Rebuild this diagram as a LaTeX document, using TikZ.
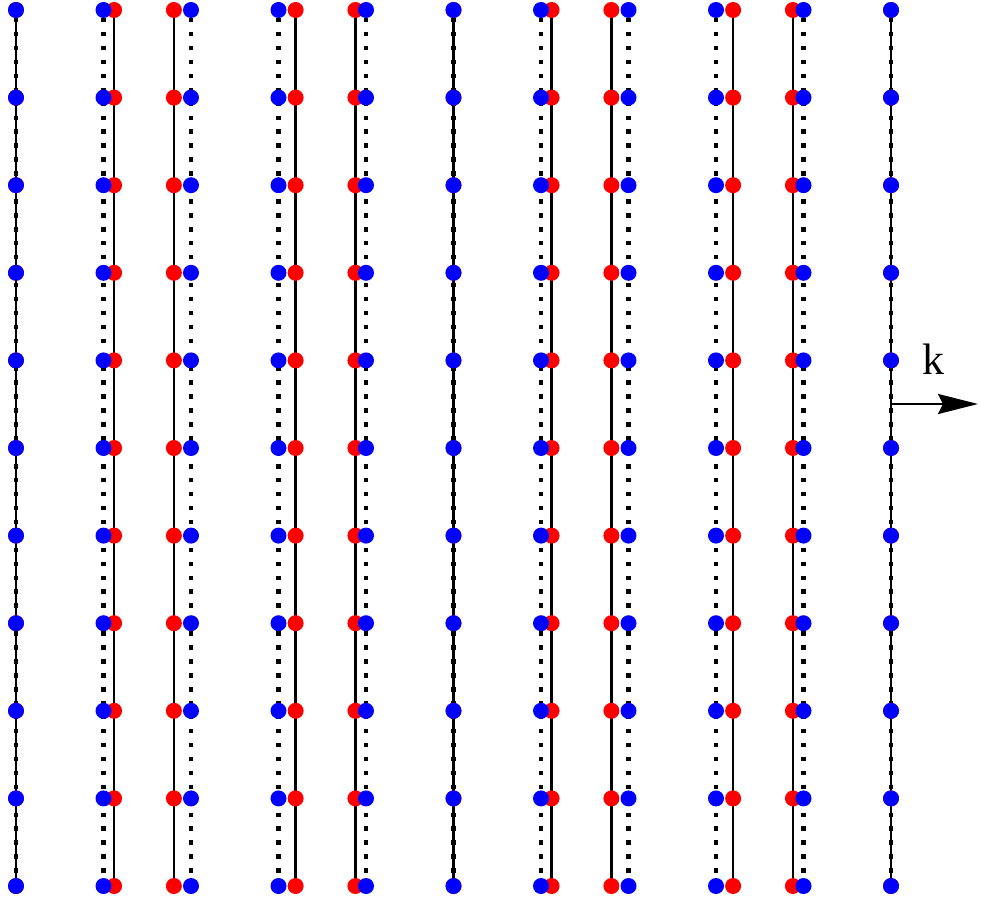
\documentclass[tikz,border=0pt]{standalone}
\usepackage{fontspec}
\setmainfont{Liberation Serif}
\usepackage{tikz}
\usetikzlibrary{arrows.meta,backgrounds}
\definecolor{cRest}{RGB}{0,0,255}
\definecolor{cMove}{RGB}{255,0,0}
\tikzset{
  restdot/.style ={circle,fill=cRest,inner sep=0pt,minimum size=16pt},
  movedot/.style ={circle,fill=cMove,inner sep=0pt,minimum size=16pt},
  wire/.style    ={draw=black,line width=2.5pt},
  dotwire/.style ={draw=black,line width=4.5pt,dash pattern=on 4.5pt off 9.44pt,dash phase=6pt},
  wave/.style    ={-{Stealth[length=40pt,width=20pt,inset=5pt]},draw=black,line width=2.5pt},
}

\begin{document}
\begin{tikzpicture}[x=1pt,y=-1pt]
\useasboundingbox (0,0) rectangle (981,909);

% displaced particles
\foreach \i in {0,...,10}{
  \pgfmathsetmacro{\xb}{16+87.5*\i}
  \pgfmathsetmacro{\xr}{\xb+18*sin(144*\i)}
  \foreach \j in {0,...,10}{
    \pgfmathsetmacro{\yy}{10+87.6*\j}
    \node[movedot] (r-\i-\j) at (\xr,\yy) {};
  }
}
% rest positions
\foreach \i in {0,...,10}{
  \pgfmathsetmacro{\xb}{16+87.5*\i}
  \foreach \j in {0,...,10}{
    \pgfmathsetmacro{\yy}{10+87.6*\j}
    \node[restdot] (b-\i-\j) at (\xb,\yy) {};
  }
}

\begin{scope}[on background layer]
\foreach \i in {0,...,10}{
  \draw[wire] (r-\i-0.center) -- (r-\i-10.center);
  \draw[dotwire] (b-\i-0.center) -- (b-\i-10.center);
}
\end{scope}

% propagation direction
\coordinate (kfrom) at (891,404);
\coordinate (kto) at (978,404);
\draw[wave] (kfrom) -- (kto);
\node[font=\fontsize{44}{44}\selectfont,inner sep=0pt] (klab) at (933,359) {k};
\end{tikzpicture}
\end{document}
